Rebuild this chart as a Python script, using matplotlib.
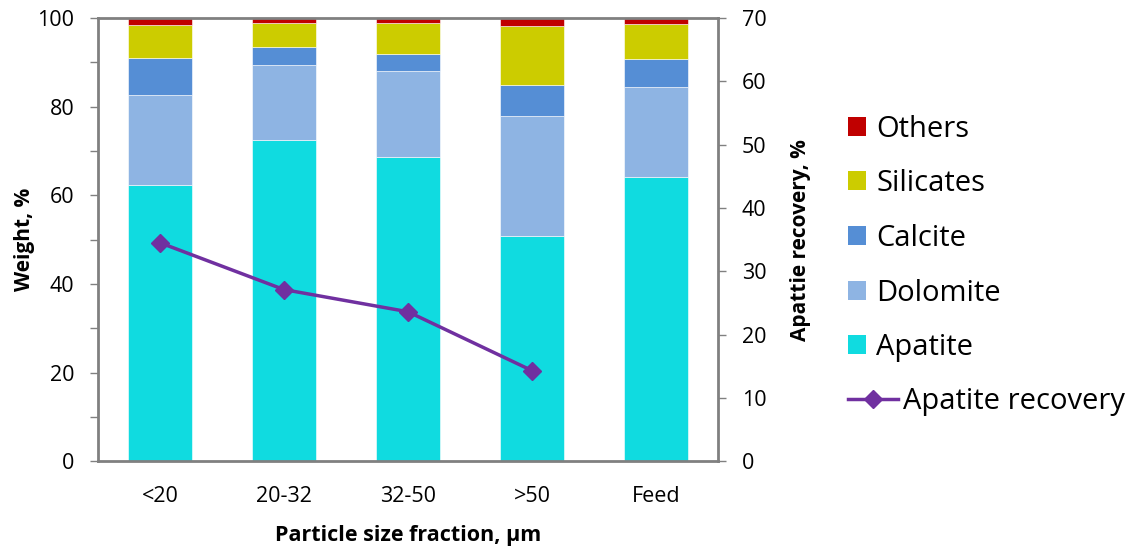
import matplotlib
matplotlib.use("Agg")
import matplotlib.pyplot as plt
from matplotlib.patches import Patch
from matplotlib.lines import Line2D
import numpy as np

categories = ["<20", "20-32", "32-50", ">50", "Feed"]
apatite = [62.3, 72.5, 68.6, 50.9, 64.1]
dolomite = [20.4, 16.9, 19.4, 27.1, 20.4]
calcite = [8.3, 4.1, 3.8, 6.9, 6.3]
silicates = [7.5, 5.45, 7.15, 13.2, 7.85]
others = [1.5, 1.05, 1.05, 1.9, 1.35]
recovery_cats = ["<20", "20-32", "32-50", ">50"]
recovery = [34.5, 27.1, 23.6, 14.3]

plt.rcParams['font.family'] = ['Open Sans', 'DejaVu Sans']

fig = plt.figure(figsize=(11.35, 5.47), dpi=100)
ax = fig.add_axes([0.0863, 0.157, 0.5463, 0.810])
x = np.arange(len(categories))
w = 0.52
colors = {"Apatite": "#10DBE0", "Dolomite": "#8EB4E3", "Calcite": "#558ED5",
          "Silicates": "#CCCC00", "Others": "#C00000"}
series = [("Apatite", apatite), ("Dolomite", dolomite), ("Calcite", calcite),
          ("Silicates", silicates), ("Others", others)]
bottom = np.zeros(len(categories))
for name, vals in series:
    ax.bar(x, vals, w, bottom=bottom, color=colors[name], edgecolor="white", linewidth=0.4)
    bottom += np.array(vals)

tick_fs = 15.5
ax.set_xlim(-0.5, 4.5)
ax.set_ylim(0, 100)
ax.set_xticks(x)
ax.set_xticklabels(categories, fontsize=tick_fs)
ax.tick_params(axis='x', length=0, pad=18)
ax.set_yticks(np.arange(0, 101, 20))
ax.set_yticks(np.arange(10, 100, 20), minor=True)
ax.tick_params(axis='y', labelsize=tick_fs, color="#808080", length=6, width=1, pad=11)
ax.tick_params(axis='y', which='minor', color="#808080", length=6, width=1)
for s in ax.spines.values():
    s.set_color("#808080")
    s.set_linewidth(2)
ax.set_ylabel("Weight, %", fontsize=15, fontweight='bold', labelpad=2)
ax.set_xlabel("Particle size fraction, µm", fontsize=15.5, fontweight='bold', labelpad=13)

ax2 = ax.twinx()
xi = [categories.index(c) for c in recovery_cats]
ax2.plot(xi, recovery, color="#7030A0", linewidth=2.5, marker='D', markersize=9.5, zorder=5)
ax2.set_ylim(0, 70)
ax2.set_yticks(np.arange(0, 71, 10))
ax2.tick_params(axis='y', labelsize=tick_fs, color="#808080", length=6, width=1, pad=11)
for s in ax2.spines.values():
    s.set_visible(False)
ax2.set_ylabel("Apattie recovery, %", fontsize=15, fontweight='bold', labelpad=17)

leg_fs = 21
patch_labels = ["Others", "Silicates", "Calcite", "Dolomite", "Apatite"]
patch_handles = [Patch(facecolor=colors[n], edgecolor='none') for n in patch_labels]
leg1 = fig.legend(patch_handles, patch_labels, loc='upper left',
                  bbox_to_anchor=(0.737, 0.812), frameon=False, fontsize=leg_fs,
                  handlelength=0.62, handleheight=0.62, handletextpad=0.34,
                  labelspacing=0.88, borderaxespad=0)
line_handle = Line2D([0], [0], color="#7030A0", linewidth=2.5, marker='D', markersize=9)
leg2 = fig.legend([line_handle], ["Apatite recovery"], loc='upper left',
                  bbox_to_anchor=(0.737, 0.313), frameon=False, fontsize=leg_fs,
                  handlelength=1.7, handletextpad=0.17, borderaxespad=0)

fig.savefig("out.png", dpi=100)
